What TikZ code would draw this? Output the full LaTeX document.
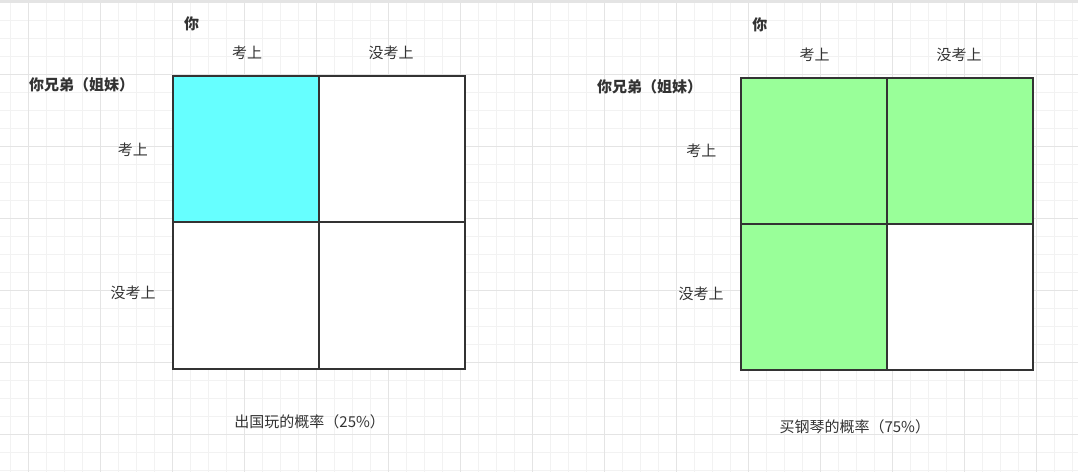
\documentclass[tikz,border=0pt]{standalone}
\usepackage{fontspec}
\newfontfamily\cjk{Noto Sans CJK SC}
\definecolor{gridminor}{HTML}{F2F2F2}
\definecolor{gridmajor}{HTML}{E4E4E4}
\definecolor{ink}{HTML}{333333}
\definecolor{cyanfill}{HTML}{66FFFF}
\definecolor{greenfill}{HTML}{99FF99}
\begin{document}
\begin{tikzpicture}[x=1pt,y=-1pt,
  lbl/.style={inner sep=0pt,text=ink,font=\cjk\fontsize{15}{17}\selectfont},
  blbl/.style={lbl,font=\cjk\bfseries\fontsize{15}{17}\selectfont},
  cell/.style={draw=ink,line width=2pt,minimum width=146pt,minimum height=146.5pt,inner sep=0pt,anchor=north west}]
\useasboundingbox (0,0) rectangle (1078,472);
\fill[white] (0,0) rectangle (1078,472);
% grid
\foreach \i in {0,...,59} {\draw[gridminor,line width=0.9pt] (10.7+18*\i,0) -- (10.7+18*\i,472);}
\foreach \i in {0,...,26} {\draw[gridminor,line width=0.9pt] (0,2+18*\i) -- (1078,2+18*\i);}
\foreach \i in {0,...,14} {\draw[gridmajor,line width=0.9pt] (28.7+72*\i,0) -- (28.7+72*\i,472);}
\foreach \i in {0,...,6} {\draw[gridmajor,line width=0.9pt] (0,2+72*\i) -- (1078,2+72*\i);}
\draw[gridmajor,line width=2pt] (0,1.2) -- (1078,1.2);
% left matrix
\node[cell,fill=cyanfill] (a11) at (172,74.5) {};
\node[cell,fill=white] (a12) at (318,74.5) {};
\node[cell,fill=white] (a21) at (172,221) {};
\node[cell,fill=white] (a22) at (318,221) {};
\node[blbl] (ayou) at (191.7,24) {你};
\node[lbl] (ac1) at (247,53) {考上};
\node[lbl] (ac2) at (391,53) {没考上};
\node[blbl] (asib) at (81.7,85) {你兄弟（姐妹）};
\node[lbl] (ar1) at (132.8,150) {考上};
\node[lbl] (ar2) at (133,292.5) {没考上};
\node[lbl] (acap) at (309.7,421.5) {出国玩的概率（25\%）};
% right matrix
\node[cell,fill=greenfill] (b11) at (740,76.5) {};
\node[cell,fill=greenfill] (b12) at (886,76.5) {};
\node[cell,fill=greenfill] (b21) at (740,222.5) {};
\node[cell,fill=white] (b22) at (886,222.5) {};
\node[blbl] (byou) at (759.8,25) {你};
\node[lbl] (bc1) at (814.7,55) {考上};
\node[lbl] (bc2) at (959,55) {没考上};
\node[blbl] (bsib) at (649.7,86.7) {你兄弟（姐妹）};
\node[lbl] (br1) at (701.3,150.3) {考上};
\node[lbl] (br2) at (701,293.7) {没考上};
\node[lbl] (bcap) at (854.8,427) {买钢琴的概率（75\%）};
\end{tikzpicture}
\end{document}
